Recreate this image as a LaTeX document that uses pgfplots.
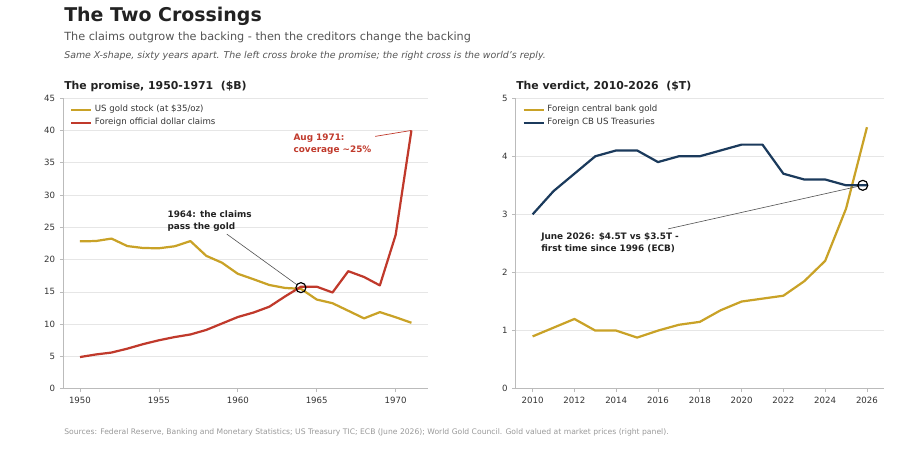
\documentclass[border=0pt]{standalone}
\usepackage{fontspec}
\setmainfont{DejaVu Sans}[Ligatures=ResetAll]
\usepackage{pgfplots}
\pgfplotsset{compat=1.18}
\definecolor{goldc}{HTML}{C9A227}
\definecolor{redc}{HTML}{C0392B}
\definecolor{navyc}{HTML}{1B3A5C}
\definecolor{titlec}{HTML}{222222}
\definecolor{subc}{HTML}{555555}
\definecolor{srcc}{HTML}{999999}
\definecolor{gridc}{HTML}{E6E6E6}
\definecolor{spinec}{HTML}{BBBBBB}
\definecolor{tickl}{HTML}{333333}
\definecolor{legc}{HTML}{333333}
\pgfplotsset{panel/.style={
  scale only axis, anchor=south west,
  axis x line*=bottom, axis y line*=left,
  axis line style={draw=spinec, line width=0.6pt},
  tick align=outside, major tick length=2.5pt,
  tick style={draw=spinec, line width=0.5pt},
  ymajorgrids, grid style={draw=gridc, line width=0.5pt},
  ticklabel style={font=\fontsize{6.2}{7}\selectfont, text=tickl},
  /pgf/number format/assume math mode=true,
  /pgf/number format/1000 sep={},
  legend style={draw=none, fill=none, font=\fontsize{6.2}{7.4}\selectfont, text=legc,
    anchor=north west, at={(0,1)}, xshift=4.5pt, yshift=-4.4pt, row sep=2pt, inner sep=0pt,
    nodes={inner xsep=2pt, inner ysep=0.6pt}},
  legend cell align=left,
  legend image code/.code={\draw[##1, line width=1.6pt] (0pt,0pt) -- (14.4pt,0pt);},
  every axis plot/.append style={line width=1.6pt, line join=round},
}}
\begin{document}
\begin{tikzpicture}[x=0.72pt,y=0.72pt]
\useasboundingbox (0,0) rectangle (908,448);
\node[anchor=base west, inner sep=0, font=\fontsize{13.65}{16}\selectfont\bfseries, text=titlec] at (64,427) {The Two Crossings};
\node[anchor=base west, inner sep=0, font=\fontsize{8.1}{10}\selectfont, text=subc] at (64,407.5) {The claims outgrow the backing - then the creditors change the backing};
\node[anchor=base west, inner sep=0, font=\fontsize{6.78}{8}\selectfont\itshape, text=subc] at (64,390) {Same X-shape, sixty years apart. The left cross broke the promise; the right cross is the world's reply.};
\node[anchor=base west, inner sep=0, font=\fontsize{7.84}{9}\selectfont\bfseries, text=titlec] at (64,358.5) {The promise, 1950-1971\ \ (\$B)};
\node[anchor=base west, inner sep=0, font=\fontsize{7.84}{9}\selectfont\bfseries, text=titlec] at (516,358.5) {The verdict, 2010-2026\ \ (\$T)};
\node[anchor=base west, inner sep=0, font=\fontsize{5.5}{6.5}\selectfont, text=srcc] at (64,13.5) {Sources: Federal Reserve, Banking and Monetary Statistics; US Treasury TIC; ECB (June 2026); World Gold Council. Gold valued at market prices (right panel).};

\begin{axis}[panel, at={(45.65pt,42.7pt)}, width=262.5pt, height=209.2pt,
  xmin=1948.95, xmax=1972.05, ymin=0, ymax=45,
  xtick={1950,1955,1960,1965,1970}, ytick={0,5,...,45}]
\addplot[goldc] coordinates {(1950,22.82) (1951,22.87) (1952,23.25) (1953,22.09) (1954,21.79) (1955,21.75) (1956,22.06) (1957,22.86) (1958,20.58) (1959,19.51) (1960,17.80) (1961,16.95) (1962,16.06) (1963,15.60) (1964,15.47) (1965,13.81) (1966,13.24) (1967,12.07) (1968,10.89) (1969,11.86) (1970,11.07) (1971,10.21)};
\addlegendentry{US gold stock (at \$35/oz)}
\addplot[redc] coordinates {(1950,4.9) (1951,5.3) (1952,5.6) (1953,6.2) (1954,6.9) (1955,7.5) (1956,8.0) (1957,8.4) (1958,9.1) (1959,10.1) (1960,11.1) (1961,11.8) (1962,12.7) (1963,14.3) (1964,15.8) (1965,15.8) (1966,14.9) (1967,18.2) (1968,17.3) (1969,16.0) (1970,23.8) (1971,40.0)};
\addlegendentry{Foreign official dollar claims}
\draw[draw=subc, line width=0.45pt, shorten >=3.4pt] (axis cs:1959.3,23.95) -- (axis cs:1964,15.65);
\draw[draw=redc, line width=0.5pt] (axis cs:1968.7,39.08) -- (axis cs:1971,40);
\addplot[only marks, mark=o, mark size=3.6pt, mark options={draw=black, line width=0.85pt, fill=none}, forget plot] coordinates {(1964,15.65)};
\end{axis}

\begin{axis}[panel, at={(371.45pt,42.7pt)}, width=264.8pt, height=209.2pt,
  xmin=2009.2, xmax=2026.8, ymin=0, ymax=5,
  xtick={2010,2012,...,2026}, ytick={0,1,...,5}]
\addplot[goldc] coordinates {(2010,0.9) (2011,1.05) (2012,1.2) (2013,1.0) (2014,1.0) (2015,0.88) (2016,1.0) (2017,1.1) (2018,1.15) (2019,1.35) (2020,1.5) (2021,1.55) (2022,1.6) (2023,1.85) (2024,2.2) (2025,3.1) (2026,4.5)};
\addlegendentry{Foreign central bank gold}
\addplot[navyc] coordinates {(2010,3.0) (2011,3.4) (2012,3.7) (2013,4.0) (2014,4.1) (2015,4.1) (2016,3.9) (2017,4.0) (2018,4.0) (2019,4.1) (2020,4.2) (2021,4.2) (2022,3.7) (2023,3.6) (2024,3.6) (2025,3.5) (2026,3.5)};
\addlegendentry{Foreign CB US Treasuries}
\draw[draw=subc, line width=0.45pt, shorten >=3.4pt] (axis cs:2016.48,2.75) -- (axis cs:2025.8,3.5);
\addplot[only marks, mark=o, mark size=3.6pt, mark options={draw=black, line width=0.85pt, fill=none}, forget plot] coordinates {(2025.8,3.5)};
\end{axis}

\node[anchor=base west, inner sep=0, font=\fontsize{6.4}{8}\selectfont\bfseries, text=titlec] at (167.3,230.5) {1964: the claims};
\node[anchor=base west, inner sep=0, font=\fontsize{6.4}{8}\selectfont\bfseries, text=titlec] at (167.3,218.5) {pass the gold};
\node[anchor=base west, inner sep=0, font=\fontsize{6.4}{8}\selectfont\bfseries, text=redc] at (293.3,307.5) {Aug 1971:};
\node[anchor=base west, inner sep=0, font=\fontsize{6.4}{8}\selectfont\bfseries, text=redc] at (293.3,295.5) {coverage \textasciitilde25\%};
\node[anchor=base west, inner sep=0, font=\fontsize{6.4}{8}\selectfont\bfseries, text=titlec] at (541,208.5) {June 2026: \$4.5T vs \$3.5T -};
\node[anchor=base west, inner sep=0, font=\fontsize{6.4}{8}\selectfont\bfseries, text=titlec] at (541,197) {first time since 1996 (ECB)};
\end{tikzpicture}
\end{document}
